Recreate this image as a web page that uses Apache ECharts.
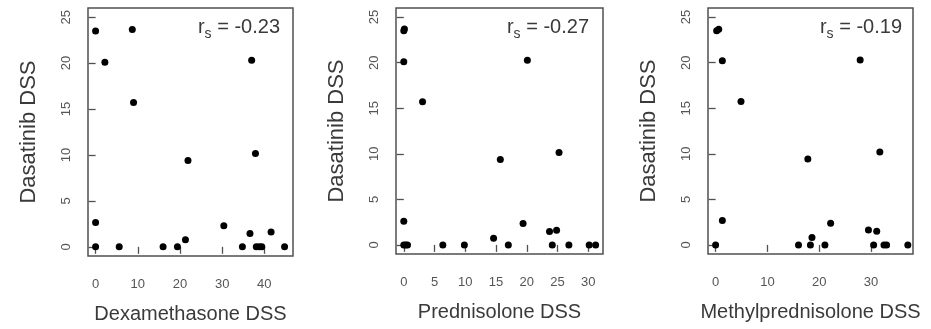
<!DOCTYPE html>
<html>
<head>
<meta charset="utf-8">
<script src="https://cdn.jsdelivr.net/npm/echarts@6/dist/echarts.min.js"></script>
<style>
html,body{margin:0;padding:0;background:#fff;}
#c{width:931px;height:329px;}
</style>
</head>
<body>
<div id="c"></div>
<script>
// ---- data ----
var dasatinibTitle = 'Dasatinib DSS';
var xTitles = ['Dexamethasone DSS', 'Prednisolone DSS', 'Methylprednisolone DSS'];
var rsLabels = ['-0.23', '-0.27', '-0.19'];

var dexX = [0, 2.2, 8.7, 9.0, 0, 0, 5.6, 16.0, 19.4, 21.3, 21.9, 30.4, 34.8, 36.6, 37.0, 37.9, 38.1, 38.8, 39.4, 41.6, 44.8];
var dexY = [23.5, 20.1, 23.66, 15.7, 2.65, 0, 0, 0, 0, 0.76, 9.4, 2.3, 0, 1.45, 20.3, 10.16, 0, 0, 0, 1.6, 0];

var predX = [0, 0.1, 0, 3.05, 0, 0, 0.3, 0.6, 6.35, 9.85, 14.6, 15.7, 17.0, 19.4, 20.1, 23.7, 24.15, 24.85, 25.25, 26.85, 30.15, 31.2];
var predY = [23.5, 23.7, 20.1, 15.7, 2.6, 0, 0, 0, 0, 0, 0.73, 9.38, 0, 2.34, 20.26, 1.46, 0, 1.6, 10.15, 0, 0, 0];

var methX = [0.2, 0.6, 1.3, 4.9, 1.3, 0, 16.0, 17.8, 18.3, 18.6, 21.1, 22.2, 27.9, 29.5, 30.5, 31.1, 31.7, 32.5, 33.0, 37.1];
var methY = [23.5, 23.66, 20.2, 15.75, 2.67, 0, 0, 9.43, 0, 0.8, 0, 2.38, 20.3, 1.64, 0, 1.5, 10.2, 0, 0, 0];

var yTicks = [0, 5, 10, 15, 20, 25];
var xTicks = [[0, 10, 20, 30, 40], [0, 5, 10, 15, 20, 25, 30], [0, 10, 20, 30]];
var xRanges = [[-1.8, 46.8], [-1.27, 32.4], [-1.47, 38.1]];
var yRange = [-1, 26];

function pairs(xs, ys) { return xs.map(function (x, i) { return [x, ys[i]]; }); }
var seriesData = [pairs(dexX, dexY), pairs(predX, predY), pairs(methX, methY)];

// ---- layout ----
var grids = [
  {left: 88, top: 8, width: 205, height: 248},
  {left: 396, top: 8, width: 207, height: 246},
  {left: 708, top: 8, width: 205, height: 246}
];
var rsRight = [646, 337, 24];

var FONT = '"Liberation Sans", Arial, Helvetica, sans-serif';
var boxColor = '#505050';
var labelColor = '#555555';
var titleColor = '#3a3a3a';

var option = {
  animation: false,
  backgroundColor: '#ffffff',
  textStyle: {fontFamily: FONT},
  grid: grids.map(function (g) {
    return Object.assign({show: true, borderColor: boxColor, borderWidth: 1.5, backgroundColor: 'transparent', containLabel: false}, g);
  }),
  title: rsLabels.map(function (v, i) {
    return {
      text: '{r|r}{s|s}{t| = ' + v + '}',
      right: rsRight[i],
      top: 12,
      textStyle: {
        fontFamily: FONT,
        fontWeight: 'normal',
        rich: {
          r: {fontSize: 20, fontWeight: 'normal', color: titleColor, fontFamily: FONT, lineHeight: 22, verticalAlign: 'top'},
          s: {fontSize: 14, fontWeight: 'normal', color: titleColor, fontFamily: FONT, lineHeight: 14, padding: [10, 0, 0, 0], verticalAlign: 'top'},
          t: {fontSize: 20, fontWeight: 'normal', color: titleColor, fontFamily: FONT, lineHeight: 22, verticalAlign: 'top'}
        }
      }
    };
  }),
  xAxis: xTitles.map(function (name, i) {
    return {
      type: 'value',
      gridIndex: i,
      min: xRanges[i][0],
      max: xRanges[i][1],
      name: name,
      nameLocation: 'middle',
      nameGap: 48,
      nameTextStyle: {fontSize: 20, color: titleColor, fontFamily: FONT},
      axisLine: {show: false},
      splitLine: {show: false},
      axisTick: {show: true, inside: false, length: 7, customValues: xTicks[i], lineStyle: {color: boxColor, width: 1.3}},
      axisLabel: {show: true, customValues: xTicks[i], margin: 22, fontSize: 13, color: labelColor, fontFamily: FONT}
    };
  }),
  yAxis: xTitles.map(function (name, i) {
    return {
      type: 'value',
      gridIndex: i,
      min: yRange[0],
      max: yRange[1],
      name: dasatinibTitle,
      nameLocation: 'middle',
      nameGap: 48,
      nameTextStyle: {fontSize: 22, color: titleColor, fontFamily: FONT},
      axisLine: {show: false},
      splitLine: {show: false},
      axisTick: {show: true, inside: false, length: 7, customValues: yTicks, lineStyle: {color: boxColor, width: 1.3}},
      axisLabel: {show: true, customValues: yTicks, rotate: 90, margin: 15, fontSize: 13, color: labelColor, fontFamily: FONT}
    };
  }),
  series: seriesData.map(function (d, i) {
    return {
      type: 'scatter',
      xAxisIndex: i,
      yAxisIndex: i,
      data: d,
      symbol: 'circle',
      symbolSize: 7,
      itemStyle: {color: '#000000', opacity: 1},
      emphasis: {disabled: true}
    };
  })
};

var chart = echarts.init(document.getElementById('c'), null, {renderer: 'canvas'});
chart.setOption(option);
</script>
</body>
</html>
